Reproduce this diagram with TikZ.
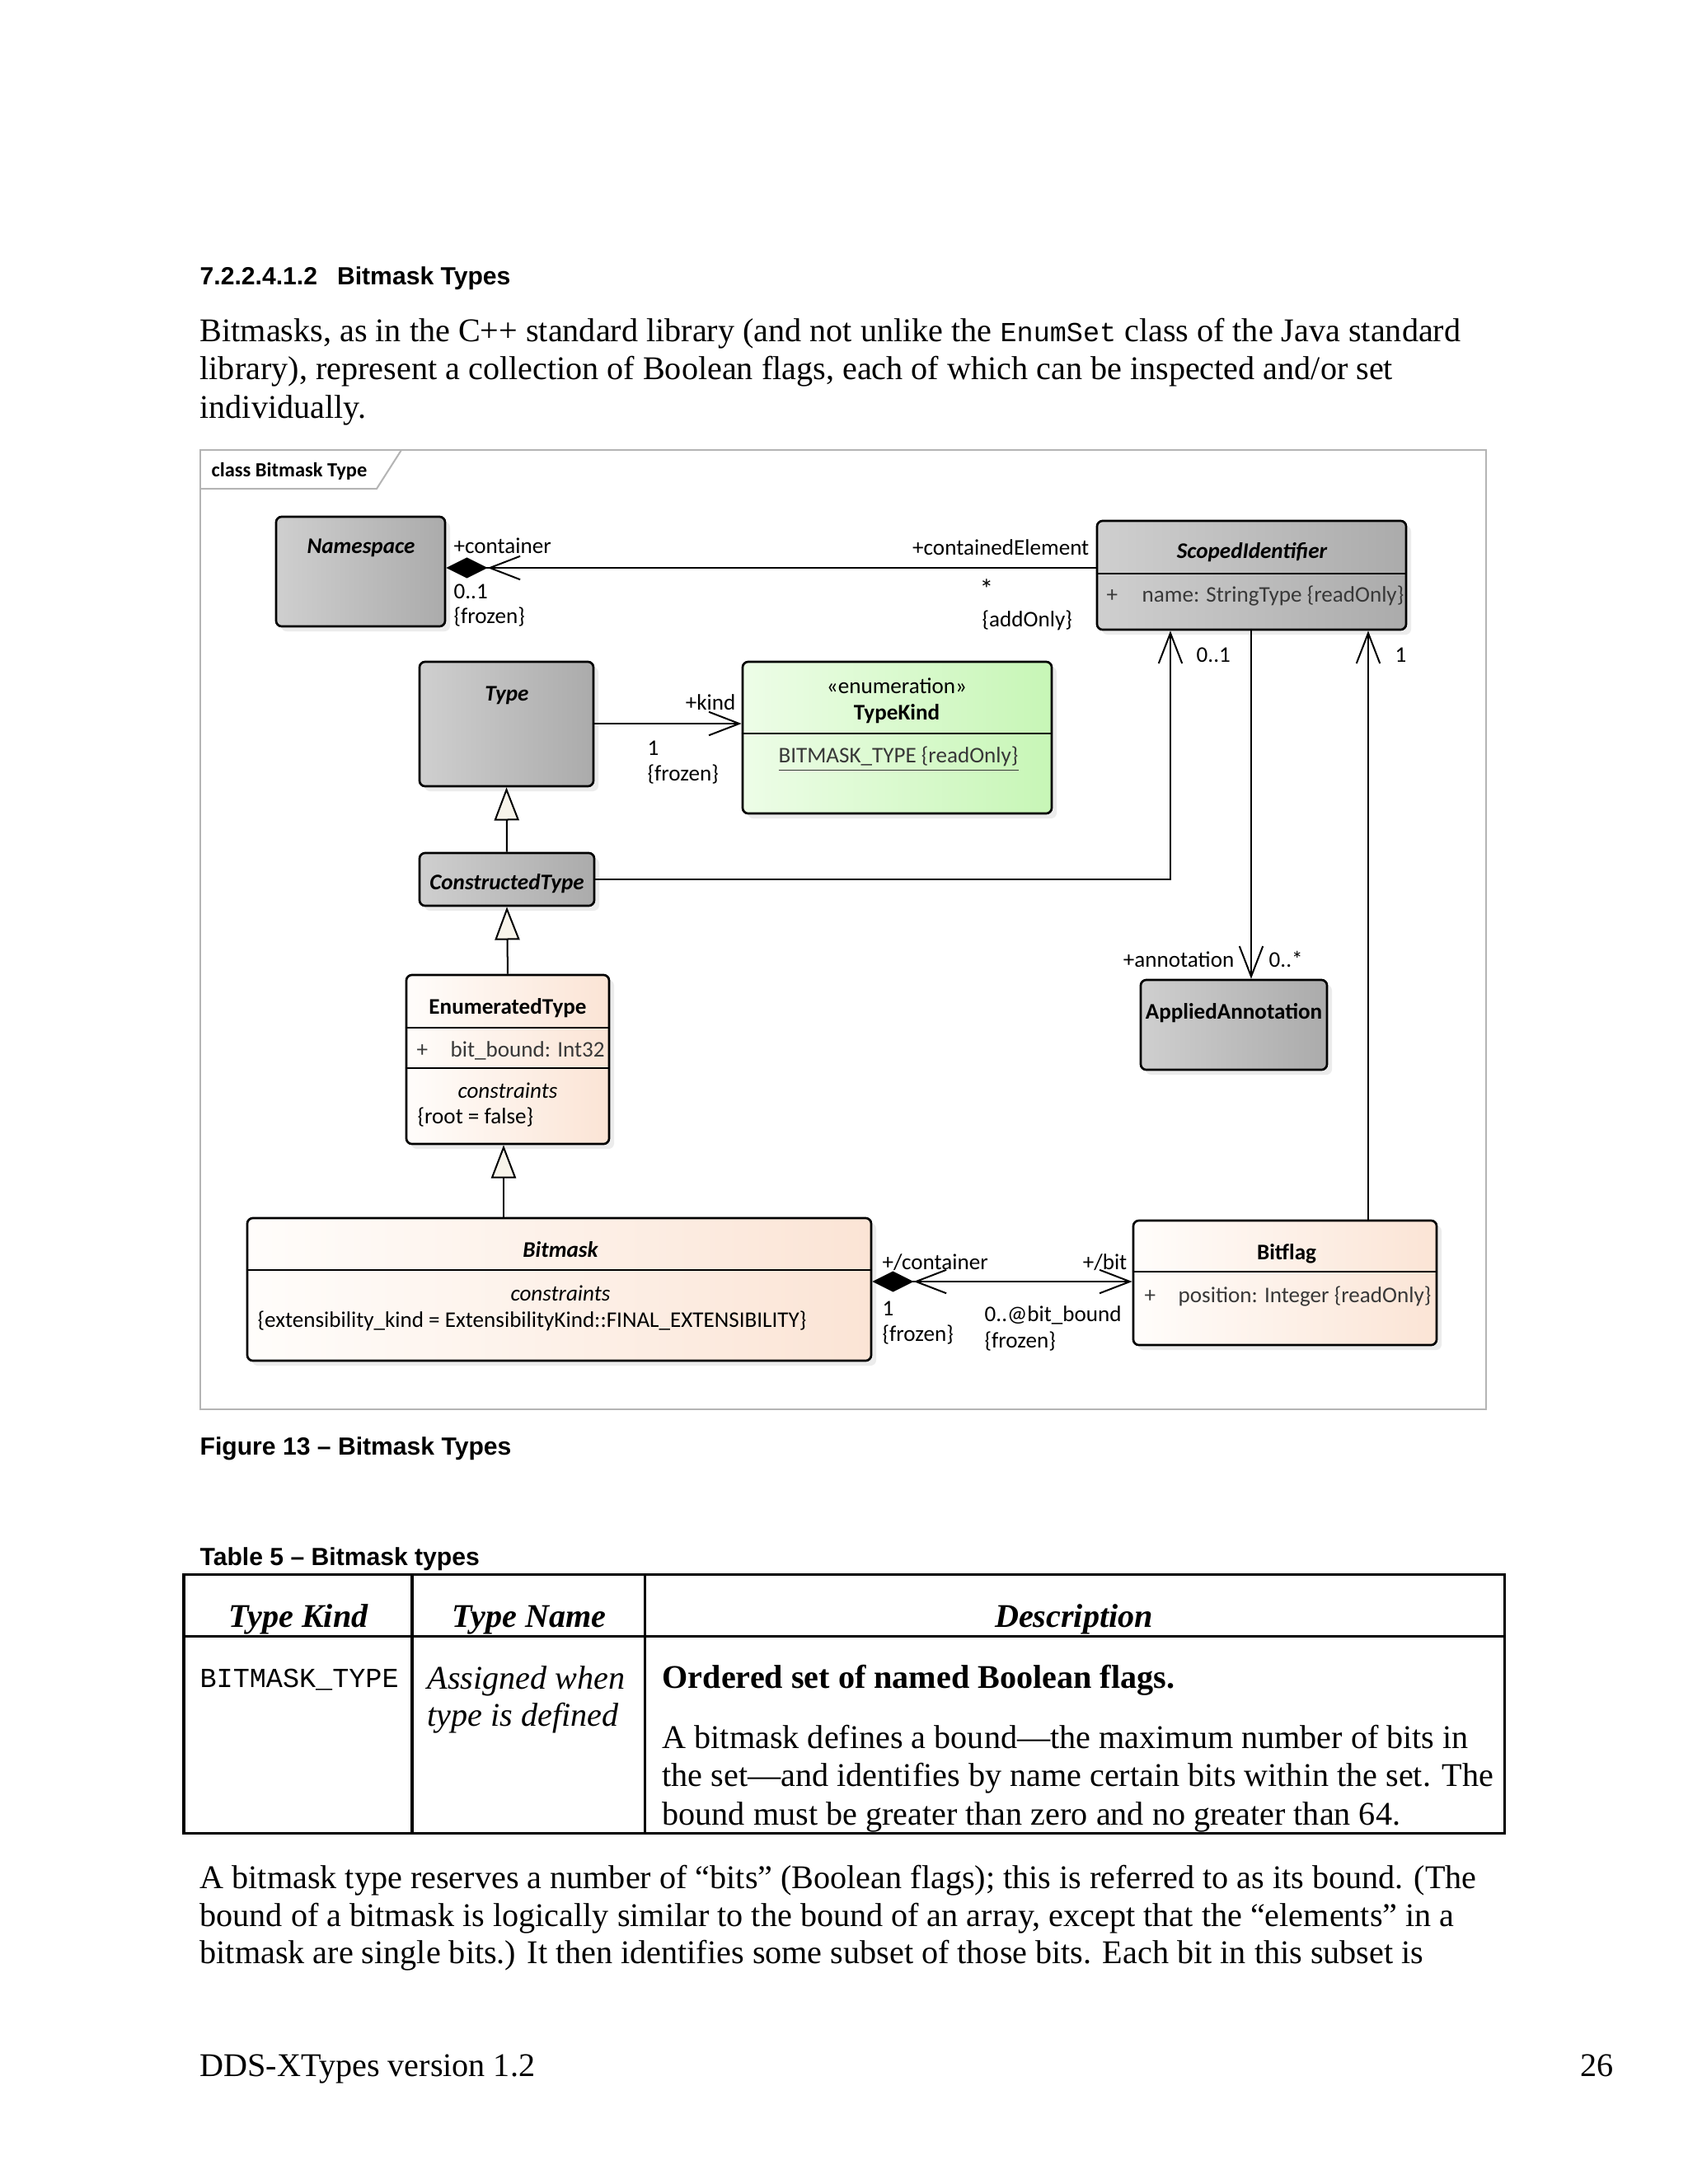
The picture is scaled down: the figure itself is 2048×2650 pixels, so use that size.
\documentclass[tikz,border=0pt]{standalone}
\usepackage{fontspec}
\setmainfont{Liberation Serif}
\setmonofont{Liberation Mono}
\newfontfamily\arialfont{Liberation Sans}
\newfontfamily\eafont{Carlito}
\usetikzlibrary{arrows.meta, positioning, fit, shadows}

\definecolor{eaGrayL}{HTML}{CFCFCF}
\definecolor{eaGrayR}{HTML}{ABABAB}
\definecolor{eaGreenL}{HTML}{EDFDE7}
\definecolor{eaGreenR}{HTML}{C7F6B6}
\definecolor{eaPeachL}{HTML}{FFFDFB}
\definecolor{eaPeachR}{HTML}{FBE4D5}
\definecolor{eaCream}{HTML}{F8F4EA}
\definecolor{frameGray}{HTML}{B4B4B4}

\newcommand\txtbody{\fontsize{12}{14}\selectfont}
\newcommand\txtcap{\fontsize{9}{11}\selectfont}
\newcommand\txtea{\fontsize{8.1}{9.7}\selectfont}
\newcommand\txtmono{\fontsize{10}{12}\selectfont}

\begin{document}
\begin{tikzpicture}[x=0.29883pt, y=-0.29883pt,
    txt/.style={inner sep=0pt, text height=0.7em, text depth=0.2em},
    ptxt/.style={inner sep=0pt, text height=0.9em, text depth=0.15em},
    bodyline/.style={ptxt, anchor=west, font=\txtbody},
    caption/.style={ptxt, anchor=west, font=\arialfont\bfseries\txtcap},
    ealabel/.style={txt, font=\eafont\txtea},
    eatitle/.style={txt, font=\eafont\txtea\bfseries},
    eatitleit/.style={txt, font=\eafont\txtea\bfseries\itshape},
    eaattr/.style={ealabel, anchor=west, text=black!78},
    umlbox/.style={draw, rounded corners=2pt, line width=0.8pt, inner sep=0pt,
      drop shadow={shadow xshift=1.8pt, shadow yshift=-1.8pt, fill=black!14}},
    graybox/.style={umlbox, left color=eaGrayL, right color=eaGrayR},
    greenbox/.style={umlbox, left color=eaGreenL, right color=eaGreenR},
    peachbox/.style={umlbox, left color=eaPeachL, right color=eaPeachR},
    divider/.style={line width=0.8pt},
    assoc/.style={line width=0.6pt, -{Straight Barb[length=11pt, width=8.5pt]}},
    comp/.style={line width=0.6pt, {Diamond[length=15pt, width=7.5pt]Straight Barb[length=11pt, width=8.5pt]}-},
    compnav/.style={line width=0.6pt, {Diamond[length=15pt, width=7.5pt]Straight Barb[length=11pt, width=8.5pt]}-{Straight Barb[length=11pt, width=8.5pt]}},
    gen/.style={line width=0.6pt, -{Triangle[length=12pt, width=9pt, fill=eaCream]}},
    rule/.style={line width=0.9pt}]

  \useasboundingbox (0,0) rectangle (2048,2650);
  \fill[white] (0,0) rectangle (2048,2650);

  \node[caption] (sechead) at (242,333) {7.2.2.4.1.2\hspace{0.8em}Bitmask Types};
  \node[bodyline] (intro1) at (242,402) {Bitmasks, as in the C++ standard library (and not unlike the {\ttfamily\txtmono EnumSet} class of the Java standard};
  \node[bodyline] (intro2) at (242,448) {library), represent a collection of Boolean flags, each of which can be inspected and/or set};
  \node[bodyline] (intro3) at (242,495) {individually.};

  \draw[frameGray, line width=0.6pt] (243,546) rectangle (1803,1710);
  \draw[frameGray, line width=0.6pt] (243,593) -- (457,593) -- (487,546);
  \node[txt, anchor=west, font=\eafont\bfseries\fontsize{7.3}{9}\selectfont] (frametitle) at (256,570) {class Bitmask Type};

  \node[graybox, fit={(335,627) (540,760)}] (ns) {};
  \node[eatitleit] (nstitle) at (438,663) {Namespace};

  \node[graybox, fit={(1331,632) (1706,764)}] (sid) {};
  \draw[divider] (sid.west |- 0,696) -- (sid.east |- 0,696);
  \node[eatitleit] (sidtitle) at (1519,669) {ScopedIdentifier};
  \node[eaattr] (sidplus) at (1342,722) {+};
  \node[eaattr] (sidattr) at (1385,722) {name: StringType \{readOnly\}};

  \node[graybox, fit={(509,803) (720,954)}] (type) {};
  \node[eatitleit] (typetitle) at (615,842) {Type};

  \node[greenbox, fit={(901,803) (1276,987)}] (tk) {};
  \draw[divider] (tk.west |- 0,890) -- (tk.east |- 0,890);
  \node[ealabel] (tkstereo) at (1088,833) {«enumeration»};
  \node[eatitle] (tktitle) at (1088,865) {TypeKind};
  \node[ealabel, text=black!78] (tklit) at (1090,917) {\underline{BITMASK\_TYPE \{readOnly\}}};

  \node[graybox, fit={(509,1035) (721,1099)}] (ct) {};
  \node[eatitleit] (cttitle) at (615,1071) {ConstructedType};

  \node[peachbox, fit={(493,1183) (739,1388)}] (en) {};
  \draw[divider] (en.west |- 0,1247) -- (en.east |- 0,1247);
  \draw[divider] (en.west |- 0,1296) -- (en.east |- 0,1296);
  \node[eatitle] (entitle) at (616,1222) {EnumeratedType};
  \node[eaattr] (enplus) at (505,1274) {+};
  \node[eaattr] (enattr) at (546,1274) {bit\_bound: Int32};
  \node[ealabel, font=\eafont\txtea\itshape] (enconstr) at (616,1324) {constraints};
  \node[ealabel, anchor=west] (enroot) at (506,1355) {\{root = false\}};

  \node[graybox, fit={(1384,1189) (1610,1298)}] (aa) {};
  \node[eatitle] (aatitle) at (1497,1228) {AppliedAnnotation};

  \node[peachbox, fit={(300,1478) (1057,1651)}] (bm) {};
  \draw[divider] (bm.west |- 0,1541) -- (bm.east |- 0,1541);
  \node[eatitleit] (bmtitle) at (680,1517) {Bitmask};
  \node[ealabel, font=\eafont\txtea\itshape] (bmconstr) at (680,1570) {constraints};
  \node[ealabel, anchor=west] (bmext) at (312,1602) {\{extensibility\_kind = ExtensibilityKind::FINAL\_EXTENSIBILITY\}};

  \node[peachbox, fit={(1375,1481) (1743,1632)}] (bf) {};
  \draw[divider] (bf.west |- 0,1543) -- (bf.east |- 0,1543);
  \node[eatitle] (bftitle) at (1561,1520) {Bitflag};
  \node[eaattr] (bfplus) at (1388,1572) {+};
  \node[eaattr] (bfattr) at (1429,1572) {position: Integer \{readOnly\}};

  \draw[comp] (ns.east |- 0,689) -- (sid.west |- 0,689);
  \node[ealabel, anchor=west] (nsrole) at (550,663) {+container};
  \node[ealabel, anchor=west] (nsmult) at (550,718) {0..1};
  \node[ealabel, anchor=west] (nsprop) at (550,748) {\{frozen\}};
  \node[ealabel, anchor=east] (sidrole) at (1322,665) {+containedElement};
  \node[ealabel, font=\eafont\fontsize{10}{12}\selectfont] (sidmult) at (1197,718) {*};
  \node[ealabel, anchor=west] (sidprop) at (1191,752) {\{addOnly\}};

  \draw[assoc] (type.east |- 0,878) -- (tk.west |- 0,878);
  \node[ealabel, anchor=east] (tkrole) at (893,853) {+kind};
  \node[ealabel, anchor=west] (tkmult) at (785,908) {1};
  \node[ealabel, anchor=west] (tkprop) at (785,939) {\{frozen\}};

  \draw[assoc] (ct.east |- 0,1067) -| (sid.south -| 1420,0);
  \node[ealabel, anchor=west] (ctmult) at (1451,795) {0..1};

  \draw[assoc] (sid.south -| 1518,0) -- (aa.north -| 1518,0);
  \node[ealabel, anchor=east] (aarole) at (1498,1165) {+annotation};
  \node[ealabel, anchor=west] (aamult) at (1539,1165) {0..*};

  \draw[assoc] (bf.north -| 1660,0) -- (sid.south -| 1660,0);
  \node[ealabel, anchor=west] (bfmult) at (1692,795) {1};

  \draw[compnav] (bm.east |- 0,1555) -- (bf.west |- 0,1555);
  \node[ealabel, anchor=west] (bmrole) at (1070,1532) {+/container};
  \node[ealabel, anchor=west] (bmmult) at (1070,1588) {1};
  \node[ealabel, anchor=west] (bmprop) at (1070,1619) {\{frozen\}};
  \node[ealabel, anchor=east] (bfrole) at (1368,1532) {+/bit};
  \node[ealabel, anchor=west] (bfbound) at (1194,1595) {0..@bit\_bound};
  \node[ealabel, anchor=west] (bfprop) at (1194,1627) {\{frozen\}};

  \draw[gen] (ct.north) -- (type.south);
  \draw[gen] (en.north) -- (ct.south);
  \draw[gen] (bm.north -| 611,0) -- (en.south -| 611,0);

  \node[caption] (figcap) at (242,1753) {Figure 13 – Bitmask Types};
  \node[caption] (tabcap) at (242,1887) {Table 5 – Bitmask types};

  \draw[rule] (223,1910) rectangle (1825,2224);
  \draw[rule] (223,1985) -- (1825,1985);
  \draw[rule] (500,1910) -- (500,2224);
  \draw[rule] (782,1910) -- (782,2224);
  \node[ptxt, font=\txtbody\bfseries\itshape] (hkind) at (362,1962) {Type Kind};
  \node[ptxt, font=\txtbody\bfseries\itshape] (hname) at (642,1962) {Type Name};
  \node[ptxt, font=\txtbody\bfseries\itshape] (hdesc) at (1303,1962) {Description};
  \node[ptxt, anchor=west, font=\ttfamily\txtmono] (ckind) at (242,2035) {BITMASK\_TYPE};
  \node[ptxt, anchor=west, font=\txtbody\itshape] (cname1) at (518,2037) {Assigned when};
  \node[ptxt, anchor=west, font=\txtbody\itshape] (cname2) at (518,2082) {type is defined};
  \node[ptxt, anchor=west, font=\txtbody\bfseries] (cdesc0) at (803,2036) {Ordered set of named Boolean flags.};
  \node[bodyline] (cdesc1) at (803,2109) {A bitmask defines a bound—the maximum number of bits in};
  \node[bodyline] (cdesc2) at (803,2155) {the set—and identifies by name certain bits within the set. The};
  \node[bodyline] (cdesc3) at (803,2202) {bound must be greater than zero and no greater than 64.};

  \node[bodyline] (para1) at (242,2279) {A bitmask type reserves a number of “bits” (Boolean flags); this is referred to as its bound. (The};
  \node[bodyline] (para2) at (242,2325) {bound of a bitmask is logically similar to the bound of an array, except that the “elements” in a};
  \node[bodyline] (para3) at (242,2370) {bitmask are single bits.) It then identifies some subset of those bits. Each bit in this subset is};

  \node[bodyline] (footl) at (242,2507) {DDS-XTypes version 1.2};
  \node[bodyline, anchor=east] (footr) at (1958,2507) {26};
\end{tikzpicture}
\end{document}
